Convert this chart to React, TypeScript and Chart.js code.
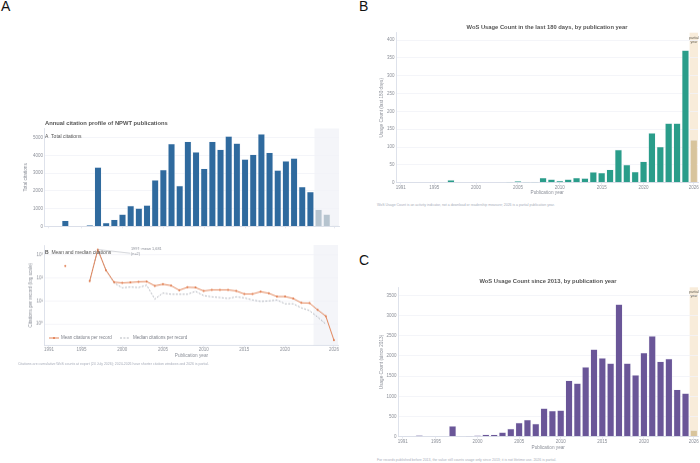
import React, { useEffect, useRef } from "react";
import { Chart, registerables } from "chart.js";

Chart.register(...registerables);

const years = Array.from({ length: 36 }, (_, i) => String(1991 + i));
const labelledYears = ["1991", "1995", "2000", "2005", "2010", "2015", "2020", "2026"];

const totalCitations = [0, 0, 330, 0, 0, 70, 3350, 200, 390, 680, 1170, 1020, 1200, 2620, 3200, 4670, 2300, 4800, 4200, 3270, 4800, 4350, 5100, 4700, 3800, 4070, 5230, 4180, 3180, 3700, 3860, 2240, 1960, 950, 680, 30];
const meanCitations = [null, null, 330, null, null, 72, 1681, 215, 65, 60, 63, 67, 69, 45, 53, 46, 29, 39, 38, 27, 30, 30, 30, 27, 20, 20, 25, 21.5, 15.4, 15.4, 12.7, 8.2, 8, 4.1, 2.2, 0.2];
const medianCitations = [null, null, null, null, null, 72, 1681, 215, 60, 37, 40, 38, 48, 12, 22, 19.5, 19.5, 19.5, 26, 17, 15, 14, 12.7, 15, 13.5, 11, 9.5, 10, 11, 7.5, 7.5, 5, 3.8, 2, 1, null];
const usage180 = [0, 0, 1, 0, 0, 0, 8, 0, 1, 0, 2, 2, 0, 3, 5, 3, 3, 14, 10, 6, 10, 14, 13, 30, 28, 37, 93, 51, 31, 60, 140, 101, 167, 167, 372, 120];
const usageSince2013 = [0, 0, 40, 0, 0, 0, 265, 10, 5, 35, 60, 55, 110, 200, 350, 420, 325, 705, 645, 655, 1395, 1325, 1730, 2165, 1950, 1820, 3280, 1820, 1530, 2080, 2495, 1865, 1935, 1170, 1075, 160];

const totalTicks = [0, 1000, 2000, 3000, 4000, 5000];
const usage180Ticks = [0, 50, 100, 150, 200, 250, 300, 350, 400];
const usageSinceTicks = [0, 500, 1000, 1500, 2000, 2500, 3000, 3500];
const logTicks = [1, 10, 100, 1000];
const logTickLabels = ["10⁰", "10¹", "10²", "10³"];

const FONT = "'Liberation Sans', Arial, sans-serif";
const TICK = "#8b8f98";
const AXIS = "#d6dae6";
const GRID = "#f1f3f7";

type Box = { left: number; top: number; right: number; bottom: number; plotLeft: number; plotTop: number; plotRight: number; plotBottom: number };

const bandPlugin = (fromYear: number, color: string) => ({
  id: "band",
  beforeDraw(chart: any) {
    const { ctx, chartArea, scales } = chart;
    const start = scales.x.getPixelForValue(years.indexOf(String(fromYear))) - scales.x.width / 36 / 2;
    ctx.save();
    ctx.fillStyle = color;
    ctx.fillRect(start, chartArea.top, chartArea.right - start, chartArea.bottom - chartArea.top);
    ctx.restore();
  },
});

const xAxis = (box: Box, showLabels: boolean) => ({
  type: "category",
  offset: true,
  border: { color: AXIS, width: 0.8 },
  grid: { display: true, drawOnChartArea: false, drawTicks: true, tickLength: 2, tickColor: AXIS, tickWidth: 0.6, offset: false },
  ticks: {
    display: showLabels,
    autoSkip: false,
    maxRotation: 0,
    minRotation: 0,
    padding: 0,
    color: TICK,
    font: { family: FONT, size: 4.5 },
  },
  title: {
    display: showLabels,
    text: "Publication year",
    color: TICK,
    padding: 0,
    font: { family: FONT, size: 4.7 },
  },
  afterBuildTicks(scale: any) {
    scale.ticks = scale.ticks.filter((t: any) => labelledYears.includes(years[t.value]));
  },
  afterFit(scale: any) {
    scale.height = box.bottom - box.plotBottom;
  },
});

const yTitle = (text: string) => ({
  display: true,
  text,
  color: TICK,
  padding: 0,
  font: { family: FONT, size: 4.7 },
});

const linearY = (box: Box, max: number, tickValues: number[], title: string) => ({
  type: "linear",
  min: 0,
  max,
  border: { color: AXIS, width: 0.8 },
  grid: { color: GRID, lineWidth: 0.8, tickLength: 1, tickColor: "rgba(0,0,0,0)" },
  ticks: { autoSkip: false, padding: 1, color: TICK, font: { family: FONT, size: 4.5 }, callback: (v: any) => String(v) },
  title: yTitle(title),
  afterBuildTicks(scale: any) {
    scale.ticks = tickValues.map((value) => ({ value }));
  },
  afterFit(scale: any) {
    scale.width = box.plotLeft - box.left;
  },
});

const layoutOf = (box: Box) => ({
  padding: { left: 0, top: box.plotTop - box.top, right: box.right - box.plotRight, bottom: 0 },
});

const barConfig = (box: Box, values: number[], colors: string[], yScale: any, showLabels: boolean, band: any) => ({
  type: "bar",
  data: {
    labels: years,
    datasets: [
      {
        data: values,
        backgroundColor: colors,
        borderColor: "rgba(235,238,245,0.9)",
        borderWidth: 0.6,
        barPercentage: 0.88,
        categoryPercentage: 1,
      },
    ],
  },
  options: {
    responsive: false,
    animation: false,
    layout: layoutOf(box),
    plugins: { legend: { display: false }, tooltip: { enabled: false }, title: { display: false } },
    scales: { x: xAxis(box, showLabels), y: yScale },
  },
  plugins: [band],
});

const logConfig = (box: Box) => ({
  type: "line",
  data: {
    labels: years,
    datasets: [
      {
        label: "Median citations per record",
        data: medianCitations,
        borderColor: "#858a96",
        borderWidth: 0.6,
        borderDash: [2, 1.4],
        pointRadius: 0,
        spanGaps: false,
        order: 2,
      },
      {
        label: "Mean citations per record",
        data: meanCitations,
        borderColor: "#e0794a",
        backgroundColor: "#e0794a",
        borderWidth: 0.9,
        pointRadius: 1,
        pointBorderWidth: 0,
        spanGaps: false,
        order: 1,
      },
    ],
  },
  options: {
    responsive: false,
    animation: false,
    layout: layoutOf(box),
    plugins: { legend: { display: false }, tooltip: { enabled: false }, title: { display: false } },
    scales: {
      x: xAxis(box, true),
      y: {
        type: "logarithmic",
        min: 0.118,
        max: 2630,
        border: { color: AXIS, width: 0.8 },
        grid: { color: GRID, lineWidth: 0.8, tickLength: 1, tickColor: "rgba(0,0,0,0)" },
        ticks: {
          padding: 1,
          autoSkip: false,
          color: TICK,
          font: { family: FONT, size: 4.5 },
          callback: (v: any) => logTickLabels[logTicks.indexOf(Number(v))] ?? null,
        },
        title: yTitle("Citations per record (log scale)"),
        afterBuildTicks(scale: any) {
          scale.ticks = logTicks.map((value) => ({ value, major: true }));
        },
        afterFit(scale: any) {
          scale.width = box.plotLeft - box.left;
        },
      },
    },
  },
  plugins: [
    bandPlugin(2024, "#f4f5f9"),
    {
      id: "callout",
      afterDatasetsDraw(chart: any) {
        const { ctx, scales } = chart;
        const i = years.indexOf("1997");
        ctx.save();
        ctx.strokeStyle = "#a3a7b0";
        ctx.lineWidth = 0.5;
        ctx.beginPath();
        ctx.moveTo(scales.x.getPixelForValue(i), scales.y.getPixelForValue(meanCitations[i] as number));
        ctx.lineTo(scales.x.getPixelForValue(i + 4), scales.y.getPixelForValue(1150));
        ctx.stroke();
        ctx.restore();
      },
    },
  ],
});

const boxTop: Box = { left: 23, top: 122, right: 342, bottom: 230, plotLeft: 44.9, plotTop: 128.5, plotRight: 339, plotBottom: 227 };
const boxLog: Box = { left: 28, top: 240, right: 342, bottom: 358.5, plotLeft: 44.9, plotTop: 245, plotRight: 339, plotBottom: 345 };
const boxB: Box = { left: 379, top: 28, right: 700, bottom: 196, plotLeft: 396.5, plotTop: 32.7, plotRight: 698, plotBottom: 182.7 };
const boxC: Box = { left: 379, top: 283, right: 700, bottom: 451, plotLeft: 398.5, plotTop: 287.3, plotRight: 698, plotBottom: 436.7 };

const colorsFor = (base: string, partial: string, firstPartial: string) =>
  years.map((y) => (Number(y) >= Number(firstPartial) ? partial : base));

const configs: [Box, any][] = [
  [boxTop, barConfig(boxTop, totalCitations, colorsFor("#2f6a9e", "#b6c4cf", "2024"), linearY(boxTop, 5530, totalTicks, "Total citations"), false, bandPlugin(2024, "#f4f5f9"))],
  [boxLog, logConfig(boxLog)],
  [boxB, barConfig(boxB, usage180, colorsFor("#2a9d8a", "#d8c49c", "2026"), linearY(boxB, 421, usage180Ticks, "Usage Count (last 180 days)"), true, bandPlugin(2026, "#f8ecda"))],
  [boxC, barConfig(boxC, usageSince2013, colorsFor("#6a5698", "#d8c49c", "2026"), linearY(boxC, 3698, usageSinceTicks, "Usage Count (since 2013)"), true, bandPlugin(2026, "#f8ecda"))],
];

function Panel({ box, config }: { box: Box; config: any }) {
  const ref = useRef<HTMLCanvasElement | null>(null);
  useEffect(() => {
    const chart = new Chart(ref.current as HTMLCanvasElement, config);
    return () => chart.destroy();
  }, []);
  return (
    <canvas
      ref={ref}
      width={box.right - box.left}
      height={box.bottom - box.top}
      style={{ position: "absolute", left: box.left, top: box.top, width: box.right - box.left, height: box.bottom - box.top }}
    />
  );
}

function T({ x, y, size, color = "#555", bold, center, children }: any) {
  return (
    <div
      style={{
        position: "absolute",
        left: x,
        top: y,
        transform: center ? "translate(-50%,-50%)" : "translateY(-50%)",
        fontFamily: FONT,
        fontSize: size,
        fontWeight: bold ? 700 : 400,
        color,
        whiteSpace: "nowrap",
        lineHeight: 1,
      }}
    >
      {children}
    </div>
  );
}

function LegendKey({ x, y, color, dashed, dot }: any) {
  return (
    <svg style={{ position: "absolute", left: x, top: y - 2, width: 10, height: 4 }} viewBox="0 0 10 4">
      <line x1="0" y1="2" x2="10" y2="2" stroke={color} strokeWidth={dashed ? 0.6 : 0.9} strokeDasharray={dashed ? "2 1.4" : undefined} />
      {dot ? <circle cx="5" cy="2" r="1" fill={color} /> : null}
    </svg>
  );
}

export default function App() {
  return (
    <div style={{ position: "absolute", left: 0, top: 0, width: 700, height: 463, overflow: "hidden", background: "#fff" }}>
      {configs.map(([box, config], i) => (
        <Panel key={i} box={box} config={config} />
      ))}

      <T x={1} y={6} size={14} color="#111">A</T>
      <T x={359} y={6} size={14} color="#111">B</T>
      <T x={359} y={260} size={14} color="#111">C</T>

      <T x={45} y={124} size={5.8} bold>Annual citation profile of NPWT publications</T>
      <T x={45} y={136} size={5} color="#555">A&nbsp;&nbsp;Total citations</T>
      <T x={45} y={252} size={5} color="#555"><b>B</b>&nbsp;&nbsp;Mean and median citations</T>
      <T x={131} y={250} size={3.8} color="#8b8f98">1997: mean 1,681</T>
      <T x={131} y={254.5} size={3.8} color="#8b8f98">(n=2)</T>

      <LegendKey x={49} y={338} color="#e0794a" dot />
      <T x={61} y={338} size={4.5} color="#7f838c">Mean citations per record</T>
      <LegendKey x={120} y={338} color="#858a96" dashed />
      <T x={133} y={338} size={4.5} color="#7f838c">Median citations per record</T>

      <T x={18} y={364.5} size={3.5} color="#a8adba">Citations are cumulative WoS counts at export (24 July 2026); 2024-2026 have shorter citation windows and 2026 is partial.</T>

      <T x={547} y={28} size={5.8} bold center>WoS Usage Count in the last 180 days, by publication year</T>
      <T x={694} y={39} size={3.6} center color="#6b6558">partial</T>
      <T x={694} y={43} size={3.6} center color="#6b6558">year</T>
      <T x={377} y={206} size={3.5} color="#a8adba">WoS Usage Count is an activity indicator, not a download or readership measure; 2026 is a partial publication year.</T>

      <T x={548} y={282} size={5.8} bold center>WoS Usage Count since 2013, by publication year</T>
      <T x={694} y={293} size={3.6} center color="#6b6558">partial</T>
      <T x={694} y={297} size={3.6} center color="#6b6558">year</T>
      <T x={377} y={460.5} size={3.5} color="#a8adba">For records published before 2013, the value still counts usage only since 2013; it is not lifetime use. 2026 is partial.</T>
    </div>
  );
}
